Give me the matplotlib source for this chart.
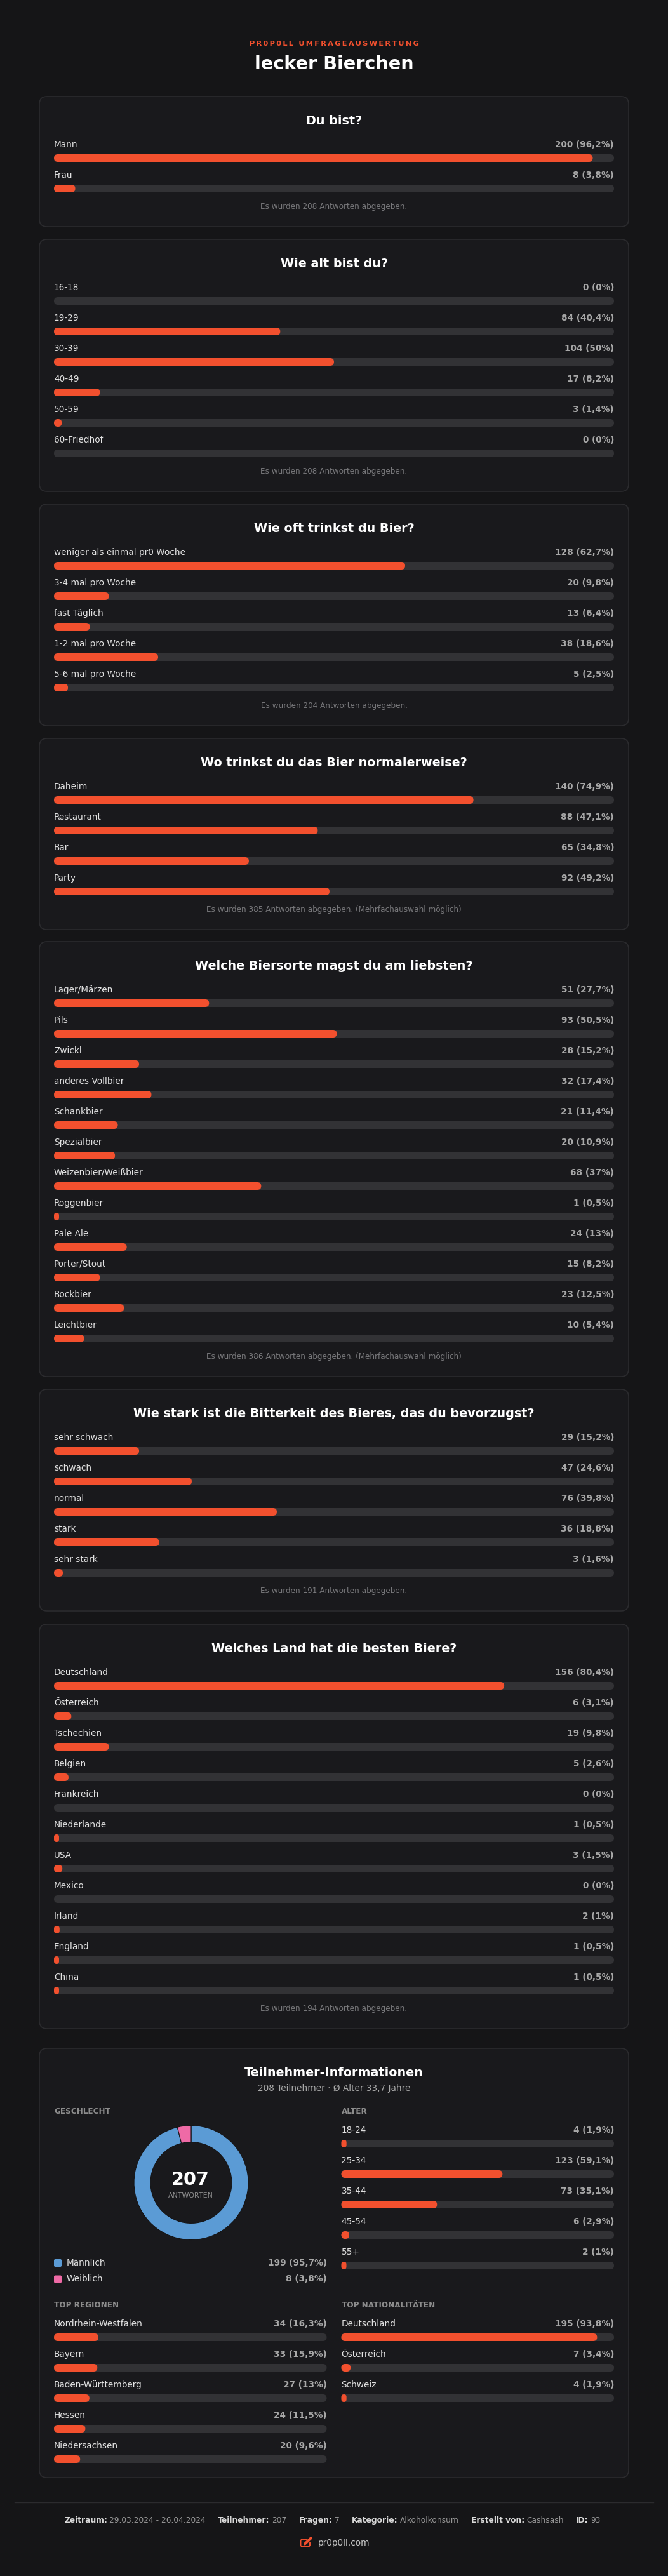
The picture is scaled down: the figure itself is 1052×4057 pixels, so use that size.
import matplotlib
matplotlib.use('Agg')
import matplotlib.pyplot as plt
from matplotlib.patches import FancyBboxPatch

BG = '#151517'
CARD = '#19191c'
BORDER = '#2b2b2e'
TRACK = '#323235'
ORANGE = '#f2502e'

W, H = 1052, 4057

titles = [
    'Du bist?',
    'Wie alt bist du?',
    'Wie oft trinkst du Bier?',
    'Wo trinkst du das Bier normalerweise?',
    'Welche Biersorte magst du am liebsten?',
    'Wie stark ist die Bitterkeit des Bieres, das du bevorzugst?',
    'Welches Land hat die besten Biere?',
]
notes = [
    'Es wurden 208 Antworten abgegeben.',
    'Es wurden 208 Antworten abgegeben.',
    'Es wurden 204 Antworten abgegeben.',
    'Es wurden 385 Antworten abgegeben. (Mehrfachauswahl möglich)',
    'Es wurden 386 Antworten abgegeben. (Mehrfachauswahl möglich)',
    'Es wurden 191 Antworten abgegeben.',
    'Es wurden 194 Antworten abgegeben.',
]

q1_labels = ['Mann', 'Frau']
q1_counts = [200, 8]
q1_pct = [96.2, 3.8]

q2_labels = ['16-18', '19-29', '30-39', '40-49', '50-59', '60-Friedhof']
q2_counts = [0, 84, 104, 17, 3, 0]
q2_pct = [0, 40.4, 50, 8.2, 1.4, 0]

q3_labels = ['weniger als einmal pr0 Woche', '3-4 mal pro Woche', 'fast Täglich', '1-2 mal pro Woche', '5-6 mal pro Woche']
q3_counts = [128, 20, 13, 38, 5]
q3_pct = [62.7, 9.8, 6.4, 18.6, 2.5]

q4_labels = ['Daheim', 'Restaurant', 'Bar', 'Party']
q4_counts = [140, 88, 65, 92]
q4_pct = [74.9, 47.1, 34.8, 49.2]

q5_labels = ['Lager/Märzen', 'Pils', 'Zwickl', 'anderes Vollbier', 'Schankbier', 'Spezialbier',
             'Weizenbier/Weißbier', 'Roggenbier', 'Pale Ale', 'Porter/Stout', 'Bockbier', 'Leichtbier']
q5_counts = [51, 93, 28, 32, 21, 20, 68, 1, 24, 15, 23, 10]
q5_pct = [27.7, 50.5, 15.2, 17.4, 11.4, 10.9, 37, 0.5, 13, 8.2, 12.5, 5.4]

q6_labels = ['sehr schwach', 'schwach', 'normal', 'stark', 'sehr stark']
q6_counts = [29, 47, 76, 36, 3]
q6_pct = [15.2, 24.6, 39.8, 18.8, 1.6]

q7_labels = ['Deutschland', 'Österreich', 'Tschechien', 'Belgien', 'Frankreich', 'Niederlande',
             'USA', 'Mexico', 'Irland', 'England', 'China']
q7_counts = [156, 6, 19, 5, 0, 1, 3, 0, 2, 1, 1]
q7_pct = [80.4, 3.1, 9.8, 2.6, 0, 0.5, 1.5, 0, 1, 0.5, 0.5]

gender_labels = ['Männlich', 'Weiblich']
gender_counts = [199, 8]
gender_pct = [95.7, 3.8]
gender_colors = ['#5b9bd5', '#ef6aa6']

age_labels = ['18-24', '25-34', '35-44', '45-54', '55+']
age_counts = [4, 123, 73, 6, 2]
age_pct = [1.9, 59.1, 35.1, 2.9, 1]

region_labels = ['Nordrhein-Westfalen', 'Bayern', 'Baden-Württemberg', 'Hessen', 'Niedersachsen']
region_counts = [34, 33, 27, 24, 20]
region_pct = [16.3, 15.9, 13, 11.5, 9.6]

nation_labels = ['Deutschland', 'Österreich', 'Schweiz']
nation_counts = [195, 7, 4]
nation_pct = [93.8, 3.4, 1.9]

footer_keys = ['Zeitraum:', 'Teilnehmer:', 'Fragen:', 'Kategorie:', 'Erstellt von:', 'ID:']
footer_vals = ['29.03.2024 - 26.04.2024', '207', '7', 'Alkoholkonsum', 'Cashsash', '93']

plt.rcParams['font.family'] = 'DejaVu Sans'

fig = plt.figure(figsize=(W / 100, H / 100), dpi=100, facecolor=BG)
ax = fig.add_axes([0, 0, 1, 1])
ax.set_xlim(0, W)
ax.set_ylim(H, 0)
ax.axis('off')


def px(size):
    # css pixels to points
    return size * 0.72


def label(x, yc, s, size, color, weight='normal', ha='left'):
    # baseline placed so that rows line up whatever the descenders are
    return ax.text(x, yc + 0.36 * size, s, color=color, fontsize=px(size), fontweight=weight,
                   ha=ha, va='baseline', zorder=4)


def box(x, y, w, h, r, color, edge='none', lw=0, z=1):
    p = FancyBboxPatch((x, y), w, h, boxstyle='round,pad=0,rounding_size=%g' % r,
                       facecolor=color, edgecolor=edge, linewidth=lw, zorder=z)
    ax.add_patch(p)


def fmt(n, pct):
    return '%d (%s%%)' % (n, ('%g' % pct).replace('.', ','))


def bars(x0, x1, y, labels, counts, pct):
    # y is the centre of the first label, rows are 48px apart
    for i in range(len(labels)):
        yc = y + i * 48
        label(x0, yc, labels[i], 13.6, '#e2e2e2')
        label(x1, yc, fmt(counts[i], pct[i]), 13.6, '#a8a8a8', 'bold', 'right')
        box(x0, yc + 16, x1 - x0, 12, 6, TRACK, z=2)
        if counts[i] > 0:
            fw = max(8, (x1 - x0) * pct[i] / 100)
            box(x0, yc + 16, fw, 12, min(fw / 2, 6), ORANGE, z=3)


def card(top, bottom):
    box(62, top, 928, bottom - top, 12, CARD, edge=BORDER, lw=1.2)


# header
label(526, 68, '\u2009'.join('PR0P0LL UMFRAGEAUSWERTUNG'), 11.4, ORANGE, 'bold', 'center')
label(526, 99, 'lecker Bierchen', 28.8, 'white', 'bold', 'center')

# question cards
tops = [152, 377, 794, 1163, 1483, 2188, 2558]
questions = [
    (q1_labels, q1_counts, q1_pct),
    (q2_labels, q2_counts, q2_pct),
    (q3_labels, q3_counts, q3_pct),
    (q4_labels, q4_counts, q4_pct),
    (q5_labels, q5_counts, q5_pct),
    (q6_labels, q6_counts, q6_pct),
    (q7_labels, q7_counts, q7_pct),
]
for k in range(len(tops)):
    t = tops[k]
    labels, counts, pct = questions[k]
    last_bar = t + 91 + 48 * (len(labels) - 1) + 11
    card(t, last_bar + 55)
    label(526, t + 37, titles[k], 19.2, 'white', 'bold', 'center')
    bars(85, 967, t + 75, labels, counts, pct)
    label(526, last_bar + 23, notes[k], 12, '#77777a', ha='center')

# participant card
card(3226, 3902)
label(526, 3263, 'Teilnehmer-Informationen', 19.2, 'white', 'bold', 'center')
label(526, 3288, '208 Teilnehmer · Ø Alter 33,7 Jahre', 13.6, '#a8a8a8', ha='center')

label(85, 3325, 'GESCHLECHT', 12, '#8c8c8c', 'bold')
label(537.5, 3325, 'ALTER', 12, '#8c8c8c', 'bold')
label(85, 3630, 'TOP REGIONEN', 12, '#8c8c8c', 'bold')
label(537.5, 3630, 'TOP NATIONALITÄTEN', 12, '#8c8c8c', 'bold')

# donut
donut = fig.add_axes([211 / W, 1 - 3527.5 / H, 180 / W, 180 / H])
donut.pie(gender_counts, colors=gender_colors, startangle=90, counterclock=False, radius=1,
          wedgeprops={'width': 0.29, 'edgecolor': '#151517', 'linewidth': 0.8})
donut.set_xlim(-1.0, 1.0)
donut.set_ylim(-1.0, 1.0)
label(300, 3431, '207', 28.8, 'white', 'bold', 'center')
label(300, 3457, 'ANTWORTEN', 11, '#8f8f8f', ha='center')

for i in range(len(gender_labels)):
    yc = 3563 + i * 25.5
    box(85, yc - 5, 12, 12, 2, gender_colors[i], z=3)
    label(105, yc, gender_labels[i], 13.6, '#e2e2e2')
    label(514.5, yc, fmt(gender_counts[i], gender_pct[i]), 13.6, '#a8a8a8', 'bold', 'right')

bars(537.5, 967, 3354, age_labels, age_counts, age_pct)
bars(85, 514.5, 3659, region_labels, region_counts, region_pct)
bars(537.5, 967, 3659, nation_labels, nation_counts, nation_pct)

# footer
ax.plot([23, 1029], [3941, 3941], color='#2b2b2e', lw=1)
fig.canvas.draw()
rend = fig.canvas.get_renderer()
x = 101
for i in range(len(footer_keys)):
    t1 = label(x, 3969, footer_keys[i], 12.2, '#d8d8d8', 'bold')
    x += t1.get_window_extent(rend).width + 3.5
    t2 = label(x, 3969, footer_vals[i], 12.2, '#969696')
    x += t2.get_window_extent(rend).width + 19

# pencil icon + link
ax.plot([488, 488, 486, 475.5, 473.5, 473.5, 475.5, 482], [4005, 4009, 4011, 4011, 4009, 4001, 3999, 3999],
        color=ORANGE, lw=1.4, solid_joinstyle='round')
ax.plot([480, 490], [4006.5, 3997], color=ORANGE, lw=3, solid_capstyle='round')
label(501, 4004, 'pr0p0ll.com', 13.6, '#c8c8c8')

fig.savefig('out.png', dpi=100, facecolor=BG)
